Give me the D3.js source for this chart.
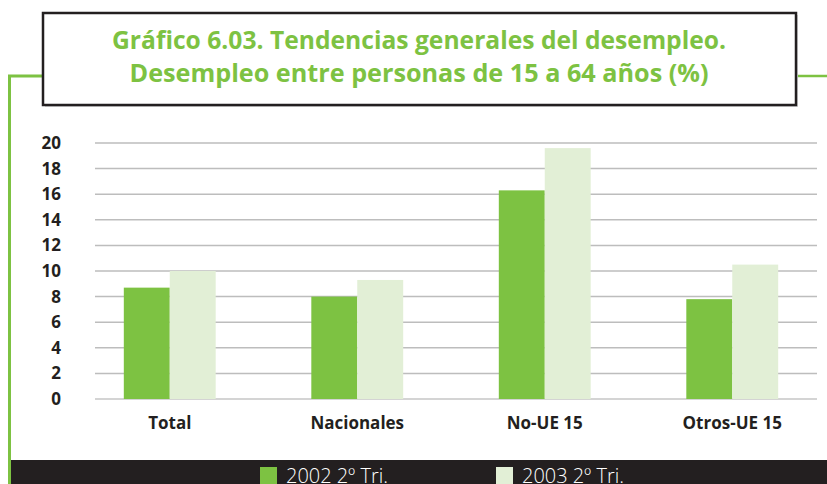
<!DOCTYPE html>
<html>
<head>
<meta charset="utf-8">
<script src="https://cdn.jsdelivr.net/npm/d3@7"></script>
<style>
  body { margin: 0; background: #fff; }
  svg { display: block; font-family: "Open Sans", "DejaVu Sans", sans-serif; }
</style>
</head>
<body>
<div id="chart"></div>
<script>
// Data
var categories = ["Total", "Nacionales", "No-UE 15", "Otros-UE 15"];
var seriesNames = ["2002 2º Tri.", "2003 2º Tri."];
var values2002 = [8.7, 8.0, 16.3, 7.8];
var values2003 = [10.0, 9.3, 19.6, 10.5];
var yTicks = [0, 2, 4, 6, 8, 10, 12, 14, 16, 18, 20];
var titleLines = ["Gráfico 6.03. Tendencias generales del desempleo.",
                  "Desempleo entre personas de 15 a 64 años (%)"];

var width = 827, height = 484;
var green = "#7dc242", lightGreen = "#e2efd6", dark = "#231f20";

var svg = d3.select("#chart").append("svg")
    .attr("width", width)
    .attr("height", height);

// green frame line on the left and right of the title box
svg.append("path")
    .attr("d", "M9.5,484 L9.5,76 L43,76")
    .attr("fill", "none")
    .attr("stroke", green)
    .attr("stroke-width", 3);
svg.append("line")
    .attr("x1", 796).attr("x2", 827)
    .attr("y1", 76).attr("y2", 76)
    .attr("stroke", green)
    .attr("stroke-width", 2.5);

// title box
svg.append("rect")
    .attr("x", 45).attr("y", 15)
    .attr("width", 753).attr("height", 92)
    .attr("fill", "#d8d8d8");
svg.append("rect")
    .attr("x", 43).attr("y", 13)
    .attr("width", 753).attr("height", 92)
    .attr("fill", "#fff")
    .attr("stroke", dark)
    .attr("stroke-width", 2.5);

svg.selectAll(".title")
  .data(titleLines)
  .enter().append("text")
    .attr("class", "title")
    .attr("x", 419)
    .attr("y", function(d, i) { return 49 + i * 33; })
    .attr("text-anchor", "middle")
    .attr("textLength", function(d, i) { return i === 0 ? 614 : 579; })
    .attr("lengthAdjust", "spacingAndGlyphs")
    .style("font-size", "24.5px")
    .style("font-weight", "bold")
    .style("fill", green)
    .text(function(d) { return d; });

// scales
var y = d3.scaleLinear()
    .domain([0, 20])
    .range([399, 143]);

var x0 = d3.scaleBand()
    .domain(categories)
    .range([76, 826])
    .paddingInner(0.51)
    .paddingOuter(0.255);

var x1 = d3.scaleBand()
    .domain(seriesNames)
    .range([0, x0.bandwidth()]);

var color = d3.scaleOrdinal()
    .domain(seriesNames)
    .range([green, lightGreen]);

// gridlines
svg.append("g")
  .selectAll("line")
  .data(yTicks)
  .enter().append("line")
    .attr("x1", 95).attr("x2", 817)
    .attr("y1", function(d) { return y(d); })
    .attr("y2", function(d) { return y(d); })
    .attr("stroke", function(d) { return d === 0 ? "#d4d4d4" : "#bdbdbd"; })
    .attr("stroke-width", function(d) { return d === 0 ? 2 : 1.5; });

// y axis labels
svg.append("g")
  .selectAll("text")
  .data(yTicks)
  .enter().append("text")
    .attr("x", 61)
    .attr("y", function(d) { return y(d); })
    .attr("dy", "0.35em")
    .attr("text-anchor", "end")
    .style("font-size", "17px")
    .style("font-weight", "bold")
    .style("fill", dark)
    .text(function(d) { return d; });

// bars
var rows = categories.map(function(c, i) {
  return {cat: c, vals: [values2002[i], values2003[i]]};
});

svg.append("g")
  .selectAll("g")
  .data(rows)
  .enter().append("g")
    .attr("transform", function(d) { return "translate(" + x0(d.cat) + ",0)"; })
  .selectAll("rect")
  .data(function(d) { return d.vals.map(function(v, j) { return {key: seriesNames[j], value: v}; }); })
  .enter().append("rect")
    .attr("x", function(d) { return x1(d.key); })
    .attr("y", function(d) { return y(d.value); })
    .attr("width", x1.bandwidth())
    .attr("height", function(d) { return y(0) - y(d.value); })
    .attr("fill", function(d) { return color(d.key); });

// category labels
svg.append("g")
  .selectAll("text")
  .data(categories)
  .enter().append("text")
    .attr("x", function(d) { return x0(d) + x0.bandwidth() / 2; })
    .attr("y", 429)
    .attr("text-anchor", "middle")
    .style("font-size", "17px")
    .style("font-weight", "bold")
    .style("fill", dark)
    .text(function(d) { return d; });

// legend band
svg.append("rect")
    .attr("x", 11).attr("y", 460)
    .attr("width", width - 11).attr("height", 24)
    .attr("fill", dark);

var legendX = [260, 496];
var legend = svg.selectAll(".legend")
  .data(seriesNames)
  .enter().append("g")
    .attr("class", "legend")
    .attr("transform", function(d, i) { return "translate(" + legendX[i] + ",467)"; });

legend.append("rect")
    .attr("width", 17)
    .attr("height", 20)
    .attr("fill", function(d) { return color(d); });

legend.append("text")
    .attr("x", 26)
    .attr("y", 15.5)
    .attr("textLength", 102)
    .attr("lengthAdjust", "spacingAndGlyphs")
    .style("font-size", "20px")
    .style("font-weight", 300)
    .style("fill", "#fff")
    .text(function(d) { return d; });
</script>
</body>
</html>
